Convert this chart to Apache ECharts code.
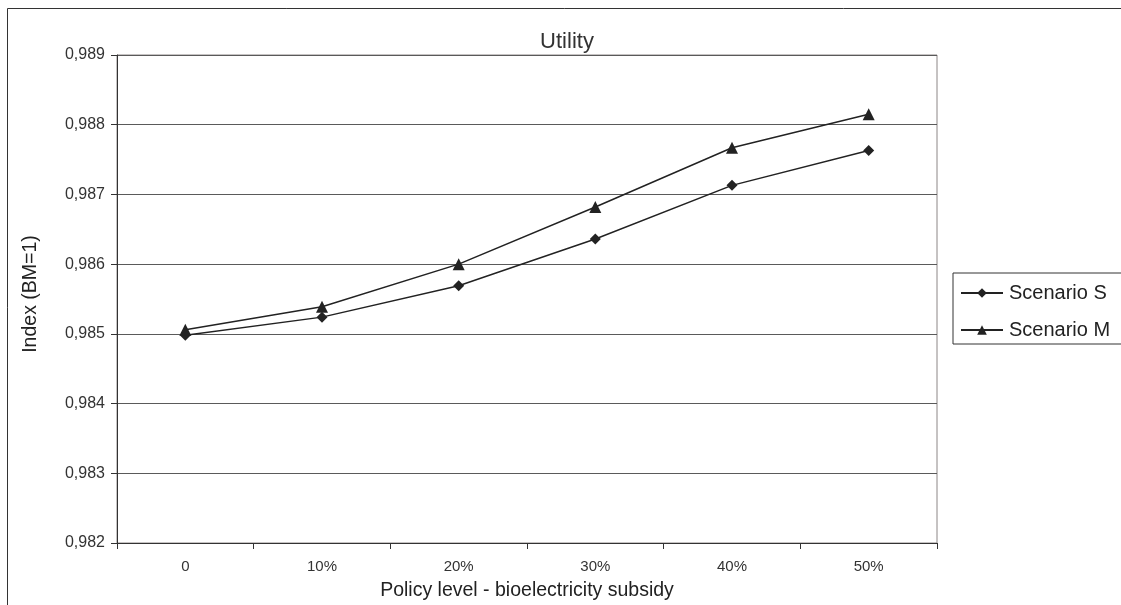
<!DOCTYPE html>
<html>
<head>
<meta charset="utf-8">
<script src="https://cdn.jsdelivr.net/npm/echarts@6/dist/echarts.min.js"></script>
<style>html,body{margin:0;padding:0;background:#fff;overflow:hidden;}#c{width:1121px;height:605px;}</style>
</head>
<body>
<div id="c"></div>
<script>
const categories = ['0', '10%', '20%', '30%', '40%', '50%'];
const scenarioS = [0.98498, 0.98524, 0.98569, 0.98636, 0.98713, 0.98763];
const scenarioM = [0.98506, 0.98539, 0.98600, 0.98682, 0.98767, 0.98815];
const seriesNames = ['Scenario S', 'Scenario M'];
const titleText = 'Utility';
const xName = 'Policy level - bioelectricity subsidy';
const yName = 'Index (BM=1)';

const FONT = "'Liberation Sans', Arial, sans-serif";
const chart = echarts.init(document.getElementById('c'));
chart.setOption({
  animation: false,
  backgroundColor: '#fff',
  textStyle: { fontFamily: FONT },
  graphic: [{
    type: 'rect', silent: true, z: 100,
    shape: { x: 7.5, y: 8.5, width: 1300, height: 800 },
    style: { fill: 'none', stroke: '#333', lineWidth: 1 }
  }],
  title: {
    text: titleText, left: 562, top: 26, textAlign: 'center',
    textStyle: { fontFamily: FONT, fontWeight: 'normal', fontSize: 22, color: '#333' }
  },
  legend: {
    orient: 'vertical', left: 953, top: 273,
    padding: [10, 40, 4, 7], itemGap: 17,
    itemWidth: 42, itemHeight: 12,
    borderColor: '#333', borderWidth: 1,
    textStyle: { fontFamily: FONT, fontSize: 20, color: '#222', padding: [0, 0, 0, 1] },
    data: seriesNames
  },
  grid: {
    left: 117, top: 55, width: 820, height: 488,
    outerBoundsMode: 'none', containLabel: false,
    show: true, borderColor: '#8c8686', borderWidth: 1
  },
  xAxis: {
    type: 'category', data: categories, boundaryGap: true,
    name: xName, nameLocation: 'middle', nameGap: 38,
    nameTextStyle: { fontFamily: FONT, fontSize: 19.5, color: '#222' },
    axisLine: { lineStyle: { color: '#333', width: 1 } },
    axisTick: { show: true, length: 6, lineStyle: { color: '#333' } },
    axisLabel: { fontFamily: FONT, fontSize: 15, color: '#333', margin: 16 },
    splitLine: { show: false }
  },
  yAxis: {
    type: 'value', min: 0.982, max: 0.989, interval: 0.001,
    name: yName, nameLocation: 'middle', nameGap: 76, nameRotate: 90,
    nameTextStyle: { fontFamily: FONT, fontSize: 19.5, color: '#222', padding: [0, 0, 0, 10] },
    axisLine: { show: true, lineStyle: { color: '#333', width: 1 } },
    axisTick: { show: true, length: 6, lineStyle: { color: '#333' } },
    axisLabel: {
      fontFamily: FONT, fontSize: 16, color: '#333', margin: 12,
      formatter: v => v.toFixed(3).replace('.', ',')
    },
    splitLine: { show: true, lineStyle: { color: '#5a5a5a', width: 1 } }
  },
  series: [
    {
      name: seriesNames[0], type: 'line', data: scenarioS,
      symbol: 'diamond', symbolSize: 11,
      lineStyle: { color: '#222', width: 1.5 },
      itemStyle: { color: '#222' }
    },
    {
      name: seriesNames[1], type: 'line', data: scenarioM,
      symbol: 'triangle', symbolSize: 12,
      lineStyle: { color: '#222', width: 1.5 },
      itemStyle: { color: '#222' }
    }
  ]
});
</script>
</body>
</html>
